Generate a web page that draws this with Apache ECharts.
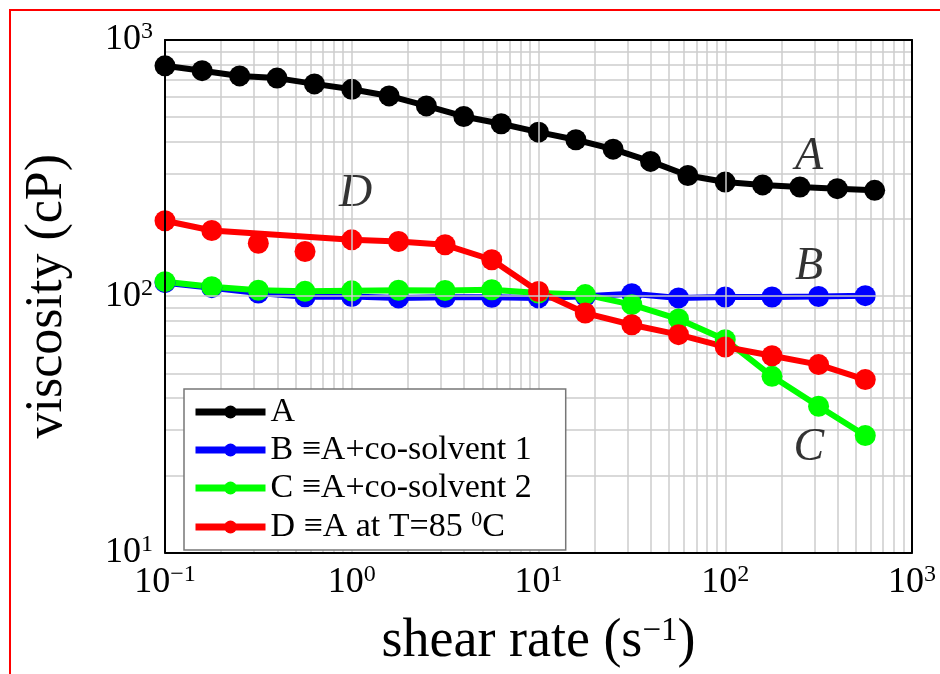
<!DOCTYPE html>
<html>
<head>
    <meta charset="utf-8" />
    <script src="https://cdn.jsdelivr.net/npm/echarts@6/dist/echarts.min.js"></script>
    <style>
        html, body { margin: 0; padding: 0; background: #fff; }
        #main { width: 940px; height: 674px; }
    </style>
</head>
<body>
    <div id="main"></div>
    <script type="text/javascript">

        // shear rate values (s^-1)
        var rateA = [0.1, 0.158, 0.251, 0.398, 0.631, 1, 1.585, 2.51, 3.98, 6.31,
                     10, 15.85, 25.1, 39.8, 63.1, 100, 158.5, 251, 398, 631];
        var rateBCD = [0.1, 0.178, 0.316, 0.562, 1, 1.78, 3.16, 5.62,
                       10, 17.8, 31.6, 56.2, 100, 178, 316, 562];

        // viscosity (cP)
        var viscA = [793, 759, 724, 710, 674, 642, 605, 553, 503, 471,
                     437, 408, 375, 336, 296, 279, 272, 267, 263, 259];
        var viscB = [113, 108, 103, 99.5, 99.8, 98.5, 99, 99,
                     98.5, 100, 102.3, 98.5, 99.3, 99.3, 99.8, 100.5];
        var viscC = [114, 109, 105.5, 104.5, 105, 105.5, 105.3, 106,
                     103, 101.5, 92.7, 81.5, 67.7, 48.7, 37.2, 28.6];
        var viscD = [197, 180.5, null, null, 166, 163.5, 158.8, 138.8,
                     104.4, 86, 77.4, 70.8, 63.4, 58.6, 54.1, 47.3];
        // two D measurements that sit off the D curve
        var rateDLoose = [0.316, 0.562];
        var viscDLoose = [161, 149.5];

        var names = ['A', 'B \u2261A+co-solvent 1', 'C \u2261A+co-solvent 2', 'D \u2261A at T=85 {s|0}C'];
        var colors = ['#000000', '#0000ff', '#00ff00', '#ff0000'];

        // curve tags
        var tagText = ['A', 'B', 'C', 'D'];
        var tagX = [281, 281, 280, 1.05];
        var tagY = [350, 130, 25.7, 251];

        var serif = '"Liberation Serif", "DejaVu Serif", serif';
        var gridGray = '#cccccc';

        function zip(xs, ys) {
            var out = [];
            for (var i = 0; i < xs.length; i++) {
                if (ys[i] != null) out.push([xs[i], ys[i]]);
            }
            return out;
        }

        function powLabel(v) {
            var e = Math.round(Math.log10(v));
            return '{b|10}{s|' + (e < 0 ? '\u2212' + (-e) : e) + '}';
        }

        // minor grid lines 2..9 per decade
        var minorLines = [];
        for (var d = -1; d < 3; d++) {
            for (var m = 2; m <= 9; m++) minorLines.push({ xAxis: m * Math.pow(10, d) });
        }
        for (var d2 = 1; d2 < 3; d2++) {
            for (var m2 = 2; m2 <= 9; m2++) minorLines.push({ yAxis: m2 * Math.pow(10, d2) });
        }

        var tickRich = {
            b: { fontFamily: serif, fontSize: 36, color: '#000' },
            s: { fontFamily: serif, fontSize: 24, color: '#000', verticalAlign: 'top', padding: [0, 0, 16, 0] }
        };

        function lineSeries(name, xs, ys, color) {
            return {
                name: name,
                type: 'line',
                xAxisIndex: 0, yAxisIndex: 0,
                data: zip(xs, ys),
                symbol: 'circle',
                symbolSize: 21,
                connectNulls: true,
                lineStyle: { color: color, width: 6 },
                itemStyle: { color: color, borderWidth: 0, opacity: 1 },
                emphasis: { disabled: true },
                z: 3
            };
        }

        function frameAxis(pos, min, max) {
            return {
                type: 'log', logBase: 10, min: min, max: max, position: pos,
                axisLine: { show: true, lineStyle: { color: '#000', width: 2 } },
                axisTick: { show: false }, axisLabel: { show: false },
                splitLine: { show: false }, z: 5
            };
        }

        var option = {
            backgroundColor: '#ffffff',
            animation: false,
            graphic: [{
                type: 'rect',
                shape: { x: 10, y: 10, width: 1000, height: 1000 },
                style: { fill: null, stroke: '#ff0000', lineWidth: 2 },
                silent: true
            }],
            grid: {
                left: 165, right: 28, top: 40, bottom: 121,
                show: true, borderColor: '#000', borderWidth: 0,
                backgroundColor: '#fff'
            },
            legend: {
                orient: 'vertical',
                left: 184, top: 389,
                data: names,
                itemWidth: 70, itemHeight: 16, itemGap: 4,
                padding: [6, 34, 6, 8],
                backgroundColor: '#fff',
                borderColor: '#777', borderWidth: 1.5,
                borderRadius: 0,
                lineStyle: { width: 7 },
                z: 6,
                textStyle: {
                    fontFamily: serif, fontSize: 34, color: '#000',
                    rich: { s: { fontFamily: serif, fontSize: 22, verticalAlign: 'top', padding: [0, 0, 14, 0] } }
                }
            },
            xAxis: [{
                type: 'log', logBase: 10, min: 0.1, max: 1000,
                name: '{t|shear rate (s}{s|\u22121}{t|)}',
                nameLocation: 'middle', nameGap: 62,
                nameTextStyle: {
                    rich: {
                        t: { fontFamily: serif, fontSize: 54, color: '#000' },
                        s: { fontFamily: serif, fontSize: 33, color: '#000', verticalAlign: 'top', padding: [0, 0, 22, 0] }
                    }
                },
                axisLine: { show: true, lineStyle: { color: '#000', width: 2 } },
                axisTick: { show: false },
                axisLabel: { formatter: powLabel, rich: tickRich, margin: 10 },
                splitLine: { show: true, lineStyle: { color: gridGray, width: 1.5 } },
                z: 5
            }, frameAxis('top', 0.1, 1000)],
            yAxis: [{
                type: 'log', logBase: 10, min: 10, max: 1000,
                name: 'viscosity (cP)',
                nameLocation: 'middle', nameGap: 92,
                nameTextStyle: { fontFamily: serif, fontSize: 52, color: '#000' },
                axisLine: { show: true, lineStyle: { color: '#000', width: 2 } },
                axisTick: { show: false },
                axisLabel: { formatter: powLabel, rich: tickRich, margin: 12 },
                splitLine: { show: true, lineStyle: { color: gridGray, width: 1.5 } },
                z: 5
            }, frameAxis('right', 10, 1000)],
            series: [
                {
                    name: 'minor-grid',
                    type: 'line',
                    data: [],
                    silent: true,
                    z: 1,
                    markLine: {
                        silent: true,
                        z: 1,
                        symbol: 'none',
                        label: { show: false },
                        lineStyle: { color: gridGray, width: 1.5, type: 'solid' },
                        data: minorLines
                    }
                },
                lineSeries(names[0], rateA, viscA, colors[0]),
                lineSeries(names[1], rateBCD, viscB, colors[1]),
                lineSeries(names[2], rateBCD, viscC, colors[2]),
                lineSeries(names[3], rateBCD, viscD, colors[3]),
                {
                    name: 'D-loose',
                    type: 'scatter',
                    data: zip(rateDLoose, viscDLoose),
                    symbolSize: 21,
                    itemStyle: { color: colors[3], opacity: 1 },
                    z: 3
                },
                {
                    name: 'tags',
                    type: 'scatter',
                    data: zip(tagX, tagY).map(function (p, i) {
                        return { value: p, label: { formatter: tagText[i] } };
                    }),
                    symbolSize: 0,
                    silent: true,
                    label: {
                        show: true, position: 'inside',
                        fontFamily: serif, fontStyle: 'italic', fontSize: 46, color: '#000'
                    },
                    z: 4
                }
            ]
        };

        var myChart = echarts.init(document.getElementById('main'));
        myChart.setOption(option);
    </script>
</body>
</html>
